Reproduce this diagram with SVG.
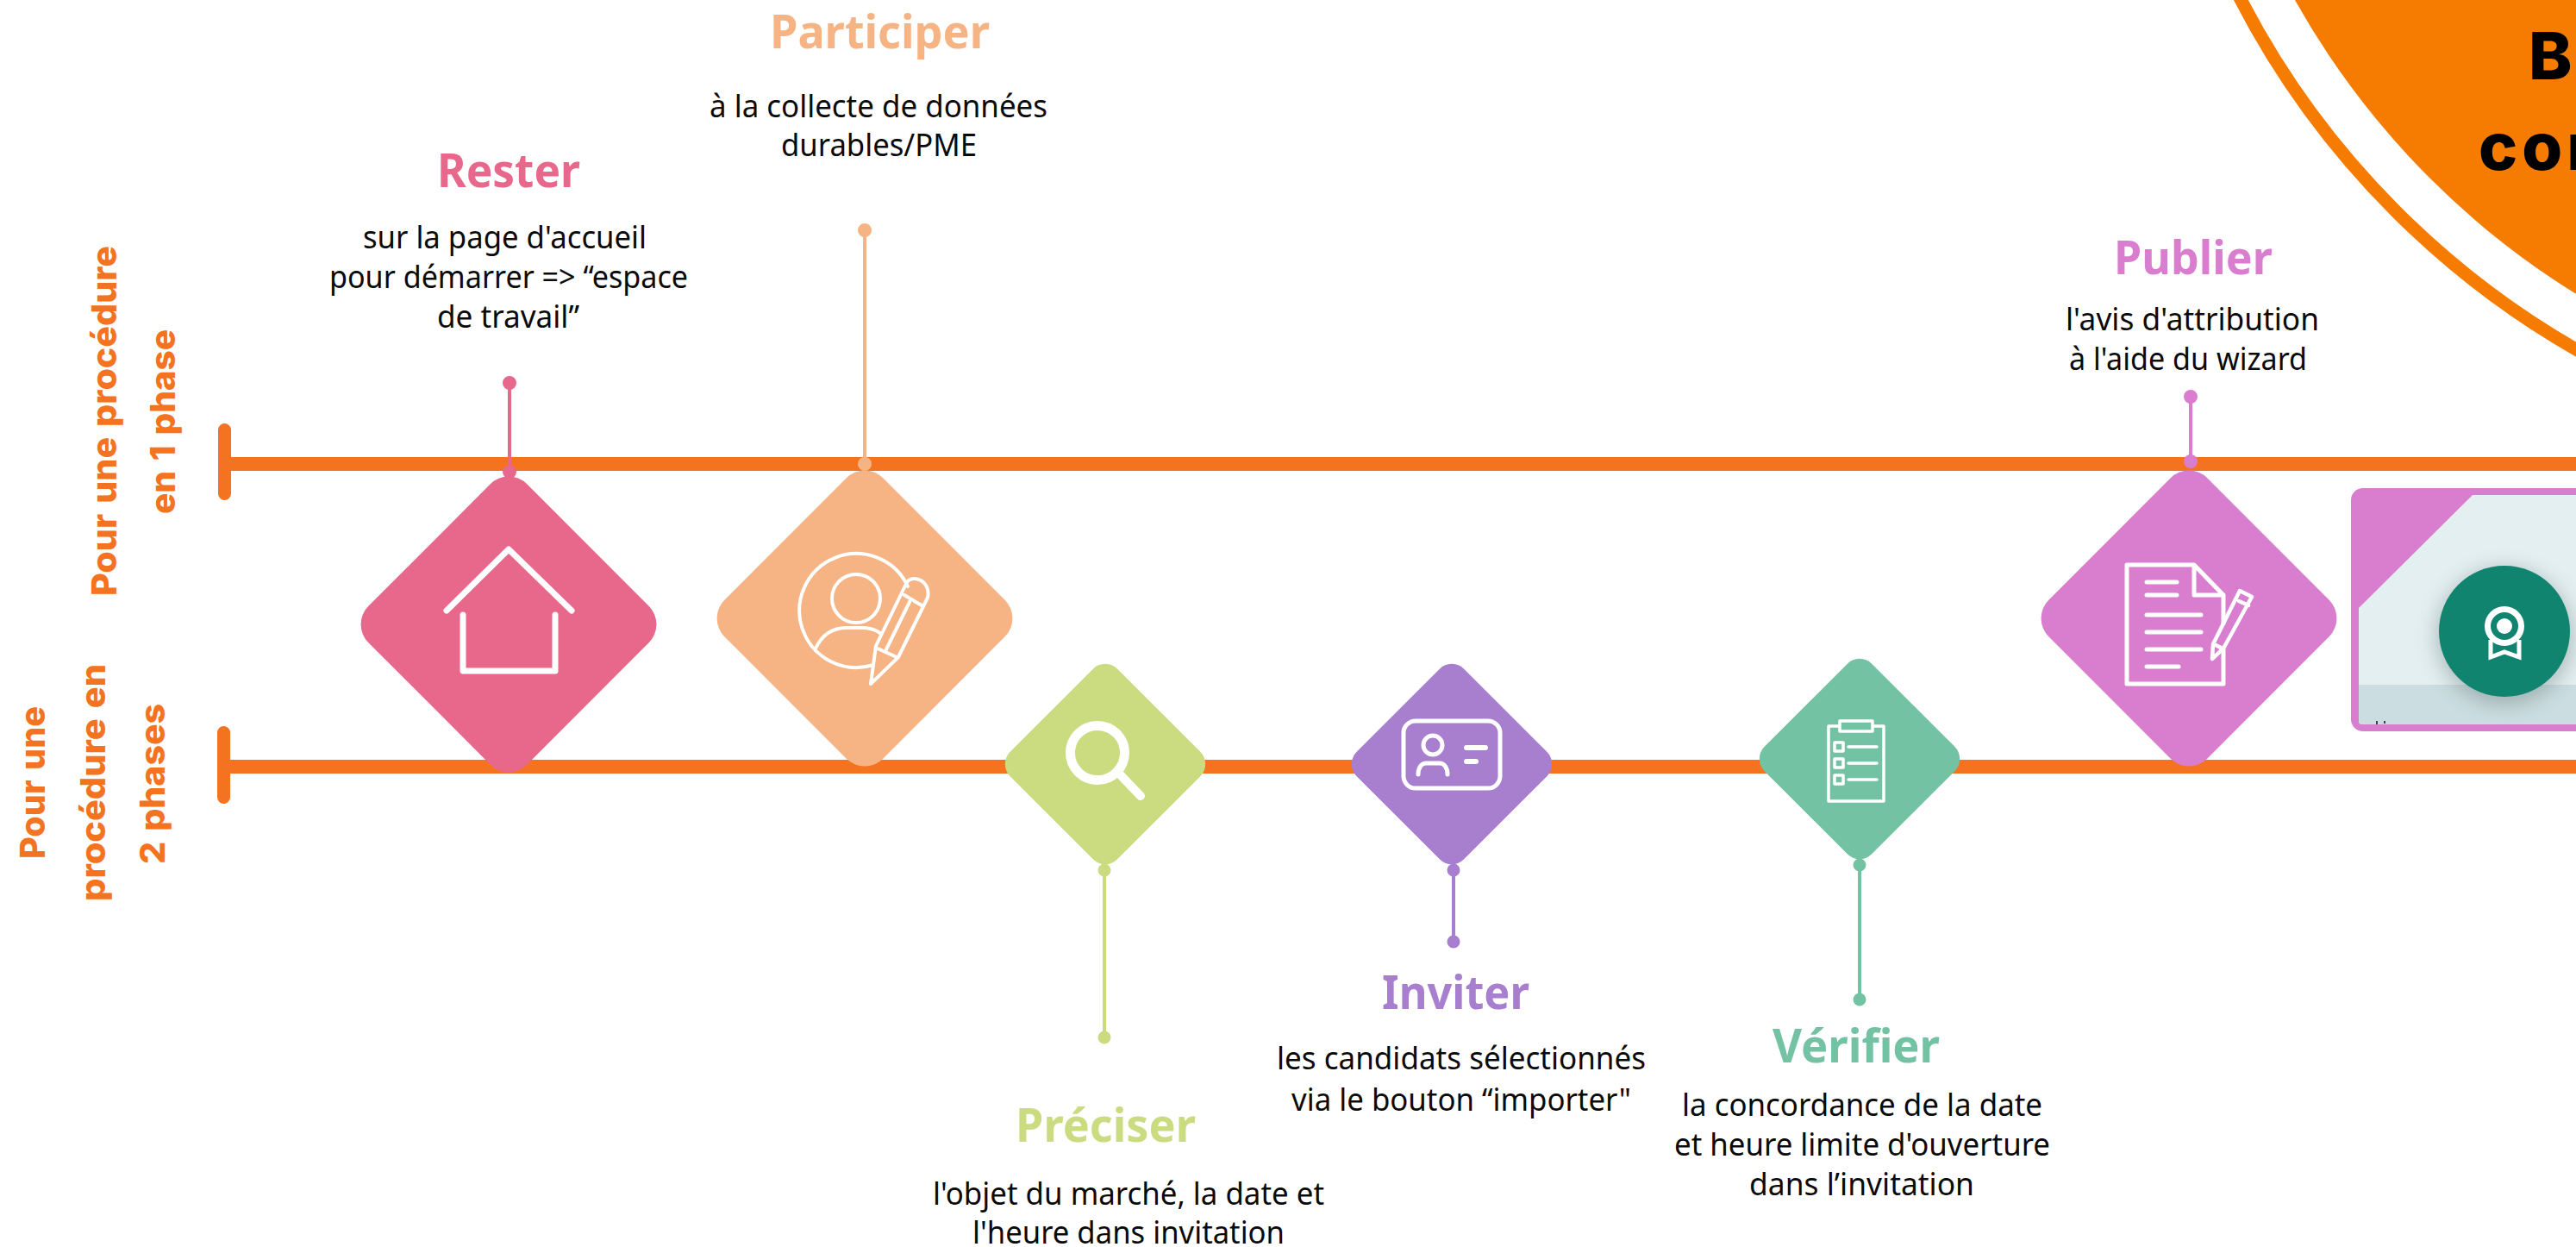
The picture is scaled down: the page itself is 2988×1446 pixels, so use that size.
<svg xmlns="http://www.w3.org/2000/svg" width="2988" height="1446" viewBox="0 0 2988 1446">
<style>
text{font-family:"Noto Sans","Open Sans",sans-serif}
.b{font-size:36px;fill:#0a0a0a}
.h{font-size:54px;font-weight:700}
.r{font-family:Inter,"Noto Sans",sans-serif;font-size:40px;font-weight:800;fill:#f47320;word-spacing:3px}
.t{font-family:Inter,"Noto Sans",sans-serif;font-size:76px;font-weight:800;fill:#000}
.i{fill:none;stroke:#fff;stroke-linecap:round;stroke-linejoin:round}
.bar{fill:#f47320}
</style>
<defs>
<rect id="big" x="-130" y="-130" width="260" height="260" rx="30" transform="rotate(45)"/>
<rect id="small" x="-88" y="-88" width="176" height="176" rx="20" transform="rotate(45)"/>
<filter id="sh" x="-30%" y="-30%" width="160%" height="160%"><feGaussianBlur stdDeviation="12"/></filter>
</defs>
<rect width="2988" height="1446" fill="#fff"/>
<g id="badge-corner">
<circle cx="3484" cy="-460" r="997" fill="none" stroke="#f57c00" stroke-width="15"/>
<circle cx="3484" cy="-460" r="942" fill="#f57c00"/>
<text class="t" x="2933" y="92">B</text>
<text class="t" x="2875" y="197" letter-spacing="5">con</text>
</g>
<g id="timelines">
<rect class="bar" x="260" y="530" width="2728" height="16"/>
<rect class="bar" x="253" y="491" width="15" height="89" rx="7.5"/>
<rect class="bar" x="260" y="881" width="2728" height="16"/>
<rect class="bar" x="252" y="842" width="15" height="90" rx="7.5"/>
<text class="r" transform="translate(135 691) rotate(-90)" textLength="406" lengthAdjust="spacingAndGlyphs">Pour une procédure</text>
<text class="r" transform="translate(203 596) rotate(-90)" textLength="214" lengthAdjust="spacingAndGlyphs">en 1 phase</text>
<text class="r" transform="translate(52 996) rotate(-90)" textLength="177" lengthAdjust="spacingAndGlyphs">Pour une</text>
<text class="r" transform="translate(122 1045) rotate(-90)" textLength="275" lengthAdjust="spacingAndGlyphs">procédure en</text>
<text class="r" transform="translate(191 1002) rotate(-90)" textLength="186" lengthAdjust="spacingAndGlyphs">2 phases</text>
</g>
<g id="connectors" stroke-width="4">
<g fill="#e8688c" stroke="#e8688c"><path d="M591 444V547"/><circle cx="591" cy="444" r="6" /><circle cx="591" cy="547" r="6"/></g>
<g fill="#f6b484" stroke="#f6b484"><path d="M1003 267V538"/><circle cx="1003" cy="267" r="6"/><circle cx="1003" cy="538" r="6"/></g>
<g fill="#d97dcf" stroke="#d97dcf"><path d="M2541 460V535"/><circle cx="2541" cy="460" r="6"/><circle cx="2541" cy="535" r="6"/></g>
<g fill="#cbdb7f" stroke="#cbdb7f"><path d="M1281 1009V1203"/><circle cx="1281" cy="1009" r="5.5"/><circle cx="1281" cy="1203" r="5.5"/></g>
<g fill="#a87fcf" stroke="#a87fcf"><path d="M1686 1009V1092"/><circle cx="1686" cy="1009" r="5.5"/><circle cx="1686" cy="1092" r="5.5"/></g>
<g fill="#74c2a4" stroke="#74c2a4"><path d="M2157 1003V1159"/><circle cx="2157" cy="1003" r="5.5"/><circle cx="2157" cy="1159" r="5.5"/></g>
</g>
<g id="rester">
<use href="#big" transform="translate(590 724)" fill="#e8688c"/>
<path class="i" stroke-width="7" d="M518 708L590 637L663 708M537 713V778H644V713"/>
<text class="h" fill="#e8688c" x="507" y="217" textLength="166" lengthAdjust="spacingAndGlyphs">Rester</text>
<text class="b" x="421" y="288" textLength="329" lengthAdjust="spacingAndGlyphs">sur la page d'accueil</text>
<text class="b" x="382" y="334" textLength="416" lengthAdjust="spacingAndGlyphs">pour démarrer =&gt; “espace</text>
<text class="b" x="507" y="380" textLength="165" lengthAdjust="spacingAndGlyphs">de travail”</text>
</g>
<g id="participer">
<use href="#big" transform="translate(1003 717)" fill="#f6b484"/>
<path class="i" stroke-width="4" d="M1053 680A66 66 0 1 0 1013 771"/>
<circle class="i" stroke-width="4" cx="993" cy="694" r="28"/>
<path class="i" stroke-width="4" d="M946 752C953 737 965 728 982 728H1000C1008 728 1016 730 1022 735"/>
<path class="i" stroke-width="4" d="M1010 793L1016 749L1051 677C1054 670 1062 670 1068 673C1075 677 1078 685 1076 693L1042 762ZM1018 752L1040 762M1049 690L1069 702M1055 698L1028 753"/>
<text class="h" fill="#f6b484" x="893" y="56" textLength="255" lengthAdjust="spacingAndGlyphs">Participer</text>
<text class="b" x="823" y="136" textLength="392" lengthAdjust="spacingAndGlyphs">à la collecte de données</text>
<text class="b" x="906" y="181" textLength="227" lengthAdjust="spacingAndGlyphs">durables/PME</text>
</g>
<g id="preciser">
<use href="#small" transform="translate(1282 886)" fill="#cbdb7f"/>
<circle class="i" stroke-width="11" cx="1273" cy="873" r="31.5"/>
<path class="i" stroke-width="10" d="M1299 898L1323 923"/>
<text class="h" fill="#cbdb7f" x="1178" y="1324" textLength="209" lengthAdjust="spacingAndGlyphs">Préciser</text>
<text class="b" x="1082" y="1397" textLength="454" lengthAdjust="spacingAndGlyphs">l'objet du marché, la date et</text>
<text class="b" x="1128" y="1442" textLength="362" lengthAdjust="spacingAndGlyphs">l'heure dans invitation</text>
</g>
<g id="inviter">
<use href="#small" transform="translate(1684 886)" fill="#a87fcf"/>
<rect class="i" stroke-width="5" x="1628" y="836" width="112" height="78" rx="14"/>
<circle class="i" stroke-width="5" cx="1662" cy="864" r="11"/>
<path class="i" stroke-width="5" d="M1645 898C1645 890 1649 885 1654 885H1670C1675 885 1679 890 1679 898"/>
<path class="i" stroke-width="6" d="M1701 867H1723M1701 883H1712"/>
<text class="h" fill="#a87fcf" x="1603" y="1170" textLength="171" lengthAdjust="spacingAndGlyphs">Inviter</text>
<text class="b" x="1481" y="1240" textLength="428" lengthAdjust="spacingAndGlyphs">les candidats sélectionnés</text>
<text class="b" x="1498" y="1288" textLength="394" lengthAdjust="spacingAndGlyphs">via le bouton “importer"</text>
</g>
<g id="verifier">
<use href="#small" transform="translate(2157 880)" fill="#74c2a4"/>
<path class="i" stroke-width="3.5" d="M2134 842H2121V929H2185V842H2172M2134 836H2172V848H2134ZM2128 861H2138V871H2128ZM2128 880H2138V890H2128ZM2128 899H2138V909H2128ZM2144 866H2177M2144 885H2177M2144 904H2177"/>
<text class="h" fill="#74c2a4" x="2056" y="1232" textLength="194" lengthAdjust="spacingAndGlyphs">Vérifier</text>
<text class="b" x="1951" y="1294" textLength="418" lengthAdjust="spacingAndGlyphs">la concordance de la date</text>
<text class="b" x="1942" y="1340" textLength="436" lengthAdjust="spacingAndGlyphs">et heure limite d'ouverture</text>
<text class="b" x="2029" y="1386" textLength="261" lengthAdjust="spacingAndGlyphs">dans l’invitation</text>
</g>
<g id="publier">
<use href="#big" transform="translate(2539 717)" fill="#d97dcf"/>
<path class="i" stroke-width="5" d="M2579 723V690L2545 655H2467V793H2579V753M2545 655V690H2579M2490 675H2525M2490 690H2525M2490 713H2553M2490 733H2553M2490 753H2553M2490 773H2527"/>
<path class="i" stroke-width="4.5" d="M2566 764L2567 747L2598 685L2612 692L2579 752ZM2568 747L2578 752M2597 697L2608 702"/>
<text class="h" fill="#d97dcf" x="2452" y="318" textLength="184" lengthAdjust="spacingAndGlyphs">Publier</text>
<text class="b" x="2396" y="383" textLength="294" lengthAdjust="spacingAndGlyphs">l'avis d'attribution</text>
<text class="b" x="2400" y="429" textLength="276" lengthAdjust="spacingAndGlyphs">à l'aide du wizard</text>
</g>
<g id="screenshot">
<rect x="2727" y="566" width="300" height="282" rx="14" fill="#d97dcf"/>
<path d="M2868 574H2988V840H2740Q2736 840 2736 836V705Z" fill="#e3eff1"/>
<path d="M2736 794H2988V840H2740Q2736 840 2736 836Z" fill="#cbdde0"/>
<circle cx="2905" cy="738" r="78" fill="#566" opacity=".4" filter="url(#sh)"/>
<circle cx="2905" cy="732" r="76" fill="#10846e"/>
<circle cx="2905" cy="726" r="19.5" fill="none" stroke="#fff" stroke-width="7"/>
<circle cx="2905" cy="726" r="9" fill="#fff"/>
<path d="M2889 742V762L2905 756L2922 762V742" fill="none" stroke="#fff" stroke-width="5"/>
<rect x="2756" y="836" width="2" height="4" fill="#345"/>
<rect x="2765" y="836" width="2" height="3" fill="#345"/>
</g>
</svg>
